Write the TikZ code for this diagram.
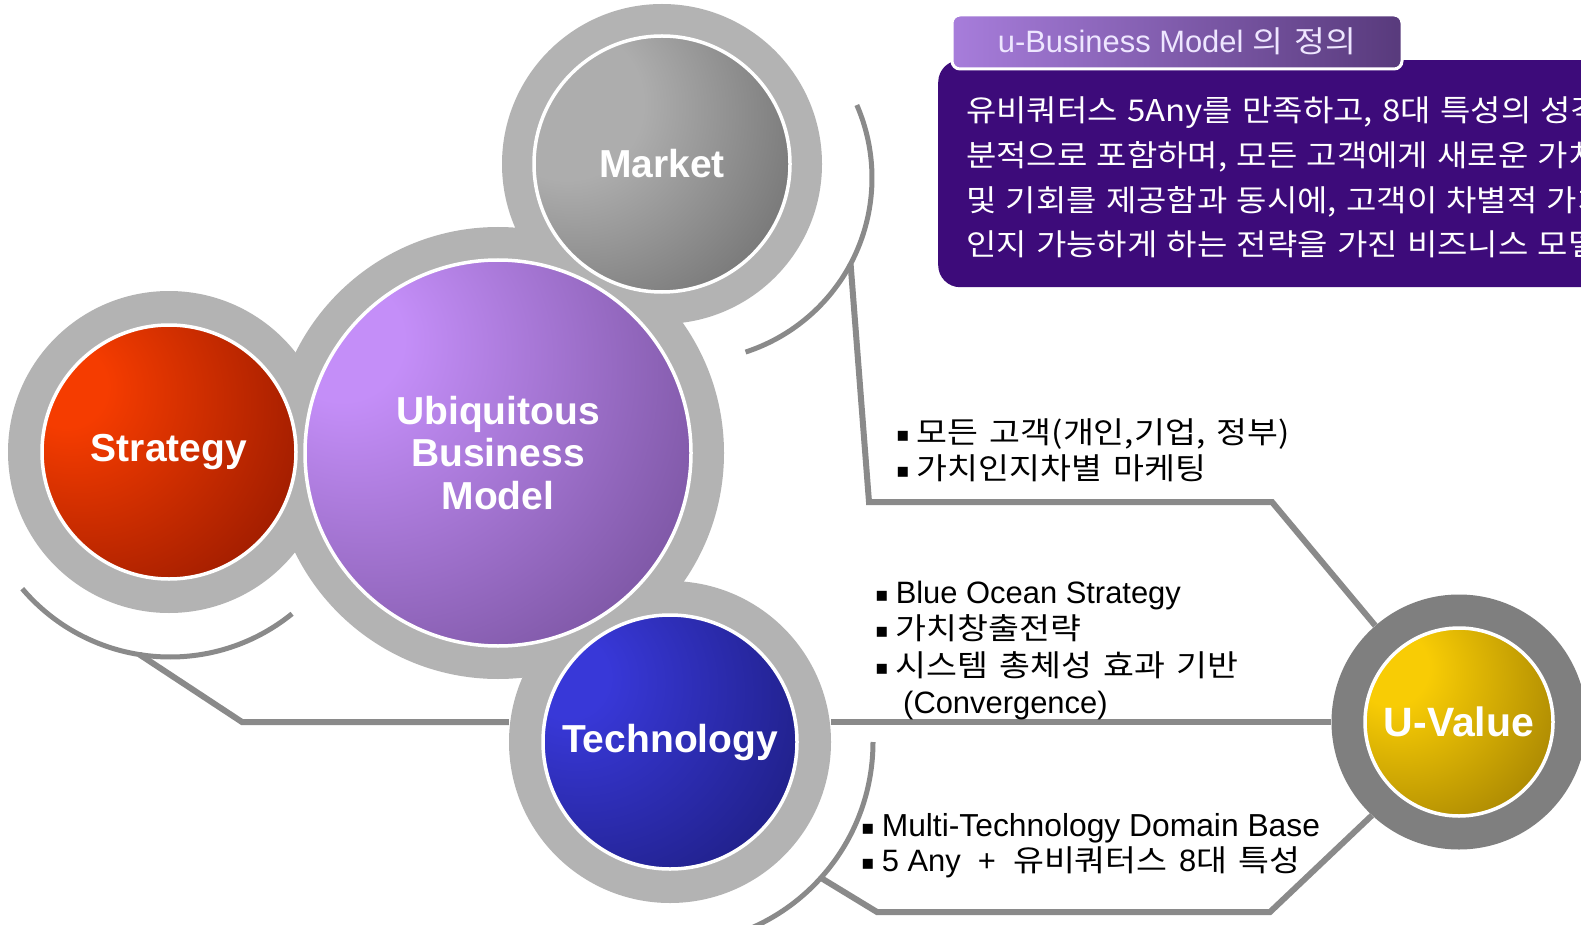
\documentclass[tikz,border=0pt]{standalone}
\usepackage{fontspec}
\setmainfont{Liberation Sans}
\newfontfamily\kr{Noto Sans CJK KR}[FakeStretch=1.12,WordSpace=1.5]
\newfontfamily\krb{Noto Sans CJK KR}[FakeStretch=1.1,WordSpace=1.25]
\newfontfamily\la{Liberation Sans}[Scale=1.03]
\newfontfamily\dv{DejaVu Sans}
\usetikzlibrary{calc}

\definecolor{ringgray}{HTML}{B3B3B3}
\definecolor{uvring}{HTML}{7F7F7F}
\definecolor{linegray}{HTML}{8A8A8A}
\definecolor{boxpurple}{HTML}{3D0B7A}
\definecolor{tabL}{HTML}{A77DDB}
\definecolor{tabR}{HTML}{583A7C}
\definecolor{tabtext}{HTML}{EEE6FF}
\definecolor{mkL}{HTML}{ADADAD}\definecolor{mkD}{HTML}{434343}
\definecolor{ubL}{HTML}{C48EF8}\definecolor{ubD}{HTML}{553775}
\definecolor{stL}{HTML}{F53C00}\definecolor{stD}{HTML}{680800}
\definecolor{teL}{HTML}{3838D8}\definecolor{teD}{HTML}{12125A}
\definecolor{uvL}{HTML}{F8CC05}\definecolor{uvD}{HTML}{664C00}

\pgfdeclareradialshading{mkshade}{\pgfpoint{-22bp}{14bp}}{color(0bp)=(mkL); color(15bp)=(mkL); color(68bp)=(mkD); color(100bp)=(mkD)}
\pgfdeclareradialshading{ubshade}{\pgfpoint{-22bp}{16bp}}{color(0bp)=(ubL); color(8bp)=(ubL); color(62bp)=(ubD); color(100bp)=(ubD)}
\pgfdeclareradialshading{stshade}{\pgfpoint{-22bp}{14bp}}{color(0bp)=(stL); color(8bp)=(stL); color(64bp)=(stD); color(100bp)=(stD)}
\pgfdeclareradialshading{teshade}{\pgfpoint{-22bp}{14bp}}{color(0bp)=(teL); color(8bp)=(teL); color(62bp)=(teD); color(100bp)=(teD)}
\pgfdeclareradialshading{uvshade}{\pgfpoint{-20bp}{16bp}}{color(0bp)=(uvL); color(10bp)=(uvL); color(70bp)=(uvD); color(100bp)=(uvD)}

\newcommand\bul{{\dv\fontsize{20}{20}\selectfont\raisebox{2pt}{▪}}\hspace{7pt}}

\begin{document}
\begin{tikzpicture}[x=1pt,y=-1pt,
  ring/.style={circle,fill=ringgray,inner sep=0pt},
  ball/.style={circle,draw=white,line width=3.5pt,inner sep=0pt,text=white,align=center,
    font=\bfseries\fontsize{39}{42.5}\selectfont},
  conn/.style={draw=linegray,line width=6pt},
  item/.style={anchor=west,inner sep=0pt,font=\kr\fontsize{30}{34}\selectfont,
    text height=26pt,text depth=4pt},
  boxtxt/.style={item,text=white,font=\krb\fontsize{30}{34}\selectfont},
  tabbox/.style={draw=white,line width=3pt,rounded corners=8pt,left color=tabL,right color=tabR,
    text=tabtext,font=\la\fontsize{30}{30}\selectfont,inner sep=0pt,text height=21pt,text depth=0pt}
]
\useasboundingbox (0,0) rectangle (1581,925);
\clip (0,0) rectangle (1581,925);
\fill[white] (0,0) rectangle (1581,925);

% ---- gray rings ----
\node[ring,minimum size=320pt] (mkR) at (662,164) {};
\node[ring,minimum size=452pt] (ubR) at (498,453) {};
\node[ring,minimum size=322pt] (stR) at (169,452) {};
\node[ring,minimum size=322pt] (teR) at (670,742) {};
\node[circle,fill=uvring,inner sep=0pt,minimum size=255pt] (uvR) at (1459,722) {};

% ---- arcs and connectors ----
\coordinate (mkC) at (689,178);
\coordinate (mA) at ($(mkC)+(23.5:183pt)$);
\coordinate (mB) at ($(mkC)+(-28:183pt)$);
\draw[conn,line width=5pt] (mA) arc[start angle=23.5,end angle=-72,radius=183pt];
\coordinate (m1) at (869,502);
\coordinate (m2) at (1272,502);
\draw[conn] (mB) -- (m1) -- (m2) -- (uvR.131.5);

\coordinate (stC) at (170,463);
\coordinate (sA) at ($(stC)+(-139.6:194pt)$);
\coordinate (sB) at ($(stC)+(-99:194pt)$);
\draw[conn,line width=5pt] (sA) arc[start angle=-139.6,end angle=-51,radius=194pt];
\coordinate (s1) at (242,722);
\draw[conn] (sB) -- (s1) -- (teR.west |- s1);

\draw[conn] (teR.east |- uvR.west) -- (uvR.west);

\coordinate (tA) at ($(teR.center)+(0:203pt)$);
\coordinate (tB) at ($(teR.center)+(-42:203pt)$);
\draw[conn,line width=5pt] (tA) arc[start angle=0,end angle=-75,radius=203pt];
\coordinate (t1) at (877,912);
\coordinate (t2) at (1270,912);
\draw[conn] (tB) -- (t1) -- (t2) -- (uvR.227);

% ---- balls ----
\node[ball,shading=mkshade,minimum size=256pt] (mk) at (662,164) {Market};
\node[ball,shading=ubshade,minimum size=386pt] (ub) at (498,453) {Ubiquitous\\Business\\Model};
\node[ball,shading=stshade,minimum size=254pt] (st) at (169,452) {Strategy};
\node[ball,shading=teshade,minimum size=254pt] (te) at (670,742) {Technology};
\node[ball,shading=uvshade,minimum size=188pt,font=\bfseries\fontsize{41}{44}\selectfont] (uv) at (1459,722) {U-Value};

% ---- bullet texts ----
\node[item] (mt1) at (896,432) {\bul 모든 고객(개인,기업, 정부)};
\node[item] (mt2) at (896,468) {\bul 가치인지차별 마케팅};

\node[item] (bt1) at (875,592) {\bul{\la Blue Ocean Strategy}};
\node[item] (bt2) at (875,628) {\bul 가치창출전략};
\node[item] (bt3) at (875,665) {\bul 시스템 총체성 효과 기반};
\node[item] (bt4) at (903,702) {\la (Convergence)};

\node[item] (tt1) at (861,825) {\bul{\la\addfontfeature{Scale=1.06} Multi-Technology Domain Base}};
\node[item] (tt2) at (861,860) {\bul{\la 5 Any~~+~~}유비쿼터스 {\la 8}대 특성};

% ---- definition box ----
\node[fill=boxpurple,rounded corners=22pt,minimum width=700pt,minimum height=227pt,
  anchor=north west,inner sep=0pt] (defbox) at (938,60) {};
\node[tabbox,minimum width=450pt,minimum height=54pt] (tab) at (1177,42) {u-Business Model {\kr 의 정의}};
\node[boxtxt] (d1) at (966,111) {유비쿼터스 5Any를 만족하고, 8대 특성의 성격을};
\node[boxtxt] (d2) at (966,156) {분적으로 포함하며, 모든 고객에게 새로운 가치};
\node[boxtxt] (d3) at (966,201) {및 기회를 제공함과 동시에, 고객이 차별적 가치};
\node[boxtxt] (d4) at (966,245) {인지 가능하게 하는 전략을 가진 비즈니스 모델};
\end{tikzpicture}
\end{document}
